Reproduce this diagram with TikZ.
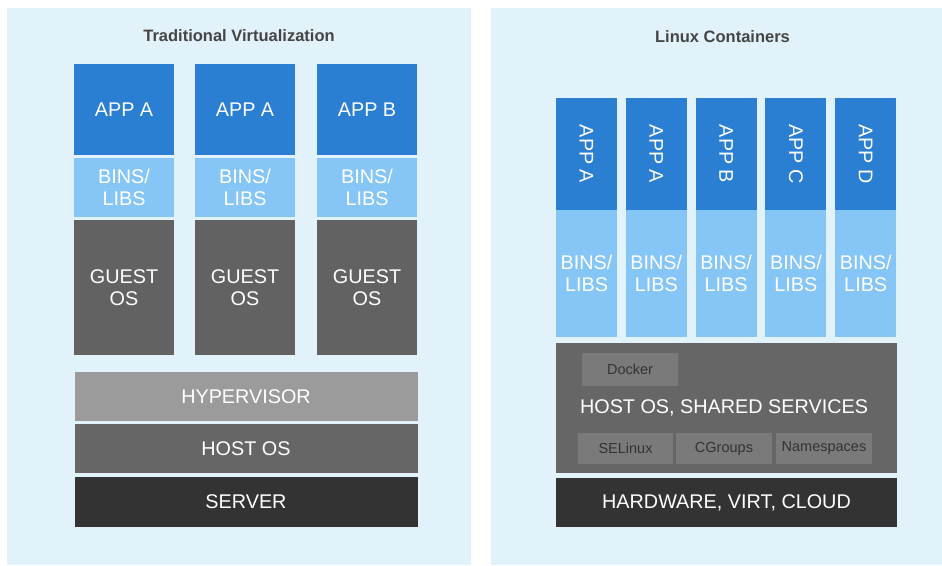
\documentclass[tikz,border=0pt]{standalone}
\usepackage{fontspec}
\setmainfont{Liberation Sans}
\definecolor{panelbg}{HTML}{E2F2FA}
\definecolor{appblue}{HTML}{2A7FD2}
\definecolor{binsblue}{HTML}{86C6F6}
\definecolor{guestgray}{HTML}{626262}
\definecolor{hypgray}{HTML}{9B9B9B}
\definecolor{hostgray}{HTML}{666666}
\definecolor{servergray}{HTML}{333333}
\definecolor{innergray}{HTML}{7A7A7A}
\definecolor{titlegray}{HTML}{454545}
\tikzset{
  blk/.style={draw=none, inner sep=0pt, align=center, text=white,
    font=\fontsize{19.8}{21.5}\selectfont},
  smallblk/.style={draw=none, inner sep=0pt, align=center, fill=innergray,
    text=servergray, font=\fontsize{14.5}{16}\selectfont},
  ttl/.style={text=titlegray, font=\fontsize{16.5}{18}\selectfont\bfseries},
}
\begin{document}
\begin{tikzpicture}[x=1pt,y=-1pt]
\useasboundingbox (0,0) rectangle (942,565);
\fill[white] (0,0) rectangle (942,565);
\fill[panelbg] (7,8) rectangle (471,565);
\fill[panelbg] (491,8) rectangle (942,565);
% titles
\node[ttl] (t1) at (239,36) {Traditional Virtualization};
\node[ttl] (t2) at (722.5,37) {Linux Containers};
% left stacks
\foreach \cx/\app/\n in {124/APP A/1, 245/APP A/2, 367/APP B/3}{
  \node[blk, fill=appblue, minimum width=100pt, minimum height=91pt] (lapp\n) at (\cx,109.5) {\app};
  \node[blk, fill=binsblue, minimum width=100pt, minimum height=59pt] (lbin\n) at (\cx,187.5) {BINS/\\LIBS};
  \node[blk, fill=guestgray, minimum width=100pt, minimum height=135pt] (lgos\n) at (\cx,287.5) {GUEST\\OS};
}
\node[blk, fill=hypgray, minimum width=343pt, minimum height=49pt] (hyp) at (246,396.5) {HYPERVISOR};
\node[blk, fill=hostgray, minimum width=343pt, minimum height=49pt] (lhost) at (246,448.5) {HOST OS};
\node[blk, fill=servergray, minimum width=343pt, minimum height=50pt] (server) at (246,502) {SERVER};
% right stacks
\foreach \cx/\app/\n in {586.5/APP A/1, 656.3/APP A/2, 726.1/APP B/3, 795.9/APP C/4, 865.7/APP D/5}{
  \node[blk, fill=appblue, minimum width=61pt, minimum height=112pt] (rapp\n) at (\cx,154) {};
  \node[blk, rotate=-90] (rappt\n) at (rapp\n.center) {\app};
  \node[blk, fill=binsblue, minimum width=61pt, minimum height=127pt] (rbin\n) at (\cx,273.5) {BINS/\\LIBS};
}
\node[blk, fill=hostgray, minimum width=341pt, minimum height=130pt] (rhost) at (726.5,408) {};
\node[blk] (rhostt) at (724,408) {HOST OS, SHARED SERVICES};
\node[smallblk, minimum width=96pt, minimum height=33pt] (docker) at (630,369.5) {Docker};
\node[smallblk, minimum width=95pt, minimum height=31pt] (selinux) at (625.5,448.5) {SELinux};
\node[smallblk, minimum width=96pt, minimum height=31pt] (cgroups) at (724,448.5) {CGroups};
\node[smallblk, minimum width=96pt, minimum height=31pt] (namesp) at (824,448.5) {Namespaces};
\node[blk, fill=servergray, minimum width=341pt, minimum height=49pt] (hw) at (726.5,502.5) {HARDWARE, VIRT, CLOUD};
\end{tikzpicture}
\end{document}
